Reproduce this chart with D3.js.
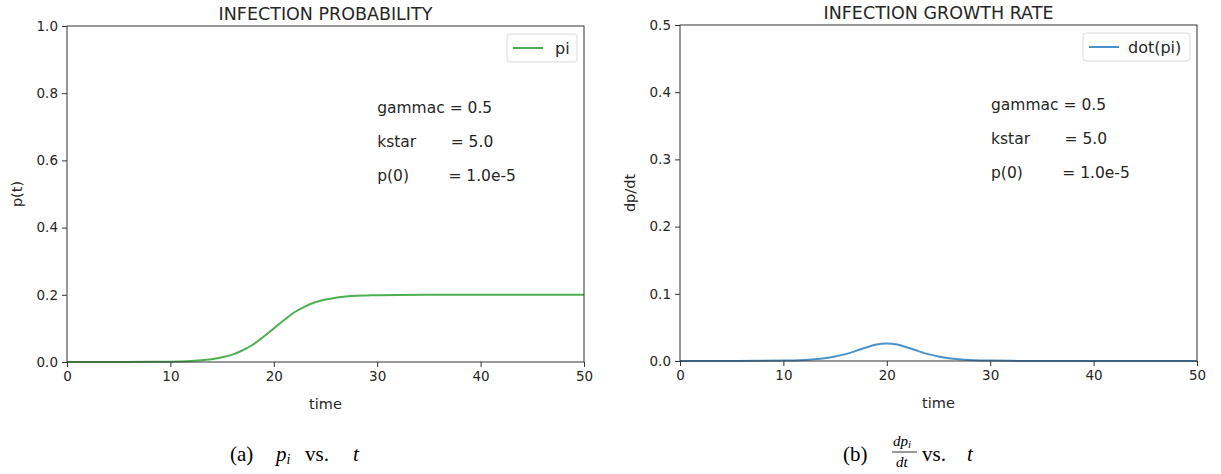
<!DOCTYPE html>
<html>
<head>
<meta charset="utf-8">
<script src="https://cdn.jsdelivr.net/npm/d3@7"></script>
<style>
  body { margin: 0; background: #fff; }
  svg text { font-family: "DejaVu Sans", sans-serif; fill: #262626; }
  .caption text { font-family: "Liberation Serif", "DejaVu Serif", serif; fill: #000; }
</style>
</head>
<body>
<div id="chart"></div>
<script>
// values
const timePoints = [0, 4, 8, 10, 11, 12, 13, 14, 15, 16, 17, 18, 19, 20, 21, 22, 23, 24, 25, 26, 27, 28, 29, 30, 32, 36, 40, 45, 50];
const piValues = [0.00001, 0.00005, 0.0004, 0.0011, 0.0018, 0.003, 0.005, 0.0085, 0.014, 0.022, 0.035, 0.052, 0.075, 0.100,
  0.125, 0.148, 0.165, 0.178, 0.186, 0.1915, 0.195, 0.197, 0.198, 0.199, 0.1997, 0.2, 0.2, 0.2, 0.2];
const dotPiValues = [0.000005, 0.00004, 0.0002, 0.0006, 0.0009, 0.0015, 0.0026, 0.0042, 0.0068, 0.0102, 0.015, 0.020, 0.0244, 0.026,
  0.0244, 0.020, 0.015, 0.0102, 0.0068, 0.0042, 0.0026, 0.0015, 0.0009, 0.0006, 0.0002, 0.00003, 0, 0, 0];
const xTicks = [0, 10, 20, 30, 40, 50];
const piTicks = [0.0, 0.2, 0.4, 0.6, 0.8, 1.0];
const dotTicks = [0.0, 0.1, 0.2, 0.3, 0.4, 0.5];
const paramLines = ['gammac = 0.5', 'kstar       = 5.0', 'p(0)        = 1.0e-5'];

const width = 1221;
const height = 474;

const svg = d3.select('#chart')
    .append('svg')
    .attr('width', width)
    .attr('height', height);

function drawPanel(cfg) {
    const x = d3.scaleLinear().domain([0, 50]).range([cfg.left, cfg.right]);
    const y = d3.scaleLinear().domain(cfg.yDomain).range([cfg.bottom, cfg.top]);
    const g = svg.append('g');

    const line = d3.line()
        .x((d, i) => x(timePoints[i]))
        .y(d => y(d))
        .curve(d3.curveCatmullRom);

    g.append('path')
        .datum(cfg.values)
        .attr('fill', 'none')
        .attr('stroke', cfg.color)
        .attr('stroke-width', 2)
        .attr('d', line);

    // frame
    g.append('rect')
        .attr('x', cfg.left)
        .attr('y', cfg.top)
        .attr('width', cfg.right - cfg.left)
        .attr('height', cfg.bottom - cfg.top)
        .attr('fill', 'none')
        .attr('stroke', '#333')
        .attr('stroke-width', 1);

    const xAxis = g.append('g')
        .attr('transform', `translate(0,${cfg.bottom})`)
        .call(d3.axisBottom(x).tickValues(xTicks).tickSize(5).tickPadding(4).tickFormat(d3.format('d')));
    const yAxis = g.append('g')
        .attr('transform', `translate(${cfg.left},0)`)
        .call(d3.axisLeft(y).tickValues(cfg.yTicks).tickSize(5).tickPadding(4).tickFormat(d3.format('.1f')));

    [xAxis, yAxis].forEach(a => {
        a.select('.domain').remove();
        a.selectAll('line').attr('stroke', '#333');
        a.selectAll('text').attr('font-size', 13.5).attr('font-family', 'DejaVu Sans').attr('fill', '#262626');
    });

    // title & labels
    g.append('text')
        .attr('x', (cfg.left + cfg.right) / 2)
        .attr('y', cfg.top - 6)
        .attr('text-anchor', 'middle')
        .attr('font-size', 17.5)
        .text(cfg.title);

    g.append('text')
        .attr('x', (cfg.left + cfg.right) / 2)
        .attr('y', cfg.bottom + 47)
        .attr('text-anchor', 'middle')
        .attr('font-size', 14.5)
        .text('time');

    g.append('text')
        .attr('transform', `translate(${cfg.left - 45},${(cfg.top + cfg.bottom) / 2}) rotate(-90)`)
        .attr('text-anchor', 'middle')
        .attr('font-size', 14.5)
        .text(cfg.yLabel);

    // legend
    const lx = cfg.right - 7 - cfg.legendWidth;
    const legend = g.append('g');
    legend.append('rect')
        .attr('x', lx)
        .attr('y', cfg.top + 8)
        .attr('width', cfg.legendWidth)
        .attr('height', 28)
        .attr('rx', 3)
        .attr('fill', '#fff')
        .attr('stroke', '#d9d9d9');
    legend.append('line')
        .attr('x1', lx + 6)
        .attr('x2', lx + 36)
        .attr('y1', cfg.top + 22)
        .attr('y2', cfg.top + 22)
        .attr('stroke', cfg.color)
        .attr('stroke-width', 2);
    legend.append('text')
        .attr('x', lx + cfg.legendText)
        .attr('y', cfg.top + 28)
        .attr('font-size', 16)
        .text(cfg.legendLabel);

    // parameter notes
    g.append('g')
        .selectAll('text')
        .data(paramLines)
        .join('text')
        .attr('x', x(cfg.noteX))
        .attr('y', (d, i) => y(cfg.noteY) + i * 34)
        .attr('font-size', 15.5)
        .attr('xml:space', 'preserve')
        .style('white-space', 'pre')
        .text(d => d);
}

drawPanel({
    left: 67, right: 584, top: 26, bottom: 362,
    yDomain: [0, 1], yTicks: piTicks, values: piValues,
    color: '#4cb050', title: 'INFECTION PROBABILITY', yLabel: 'p(t)',
    legendLabel: 'pi', legendWidth: 70, legendText: 48, noteX: 30, noteY: 0.742
});

drawPanel({
    left: 680, right: 1197, top: 25, bottom: 361,
    yDomain: [0, 0.5], yTicks: dotTicks, values: dotPiValues,
    color: '#4a92cb', title: 'INFECTION GROWTH RATE', yLabel: 'dp/dt',
    legendLabel: 'dot(pi)', legendWidth: 107, legendText: 45, noteX: 30.08, noteY: 0.374
});

// sub-figure captions
const cap = svg.append('g').attr('class', 'caption');
const capA = cap.append('text').attr('y', 461).attr('font-size', 21);
capA.append('tspan').attr('x', 230).text('(a)');
capA.append('tspan').attr('x', 276).attr('font-style', 'italic').text('p');
capA.append('tspan').attr('font-style', 'italic').attr('font-size', 14).attr('dy', 3).text('i');
capA.append('tspan').attr('x', 305).attr('dy', -3).text('vs.');
capA.append('tspan').attr('x', 353).attr('font-style', 'italic').text('t');

const capB = cap.append('text').attr('y', 461).attr('font-size', 21);
capB.append('tspan').attr('x', 843).text('(b)');
capB.append('tspan').attr('x', 922).text('vs.');
capB.append('tspan').attr('x', 967).attr('font-style', 'italic').text('t');

const frac = cap.append('g');
const num = frac.append('text').attr('x', 893).attr('y', 446).attr('font-size', 15).attr('font-style', 'italic');
num.append('tspan').text('dp');
num.append('tspan').attr('font-size', 11).attr('dy', 2).text('i');
frac.append('line').attr('x1', 892).attr('x2', 917).attr('y1', 452).attr('y2', 452).attr('stroke', '#000').attr('stroke-width', 0.8);
frac.append('text').attr('x', 896).attr('y', 467).attr('font-size', 15).attr('font-style', 'italic').text('dt');
</script>
</body>
</html>
